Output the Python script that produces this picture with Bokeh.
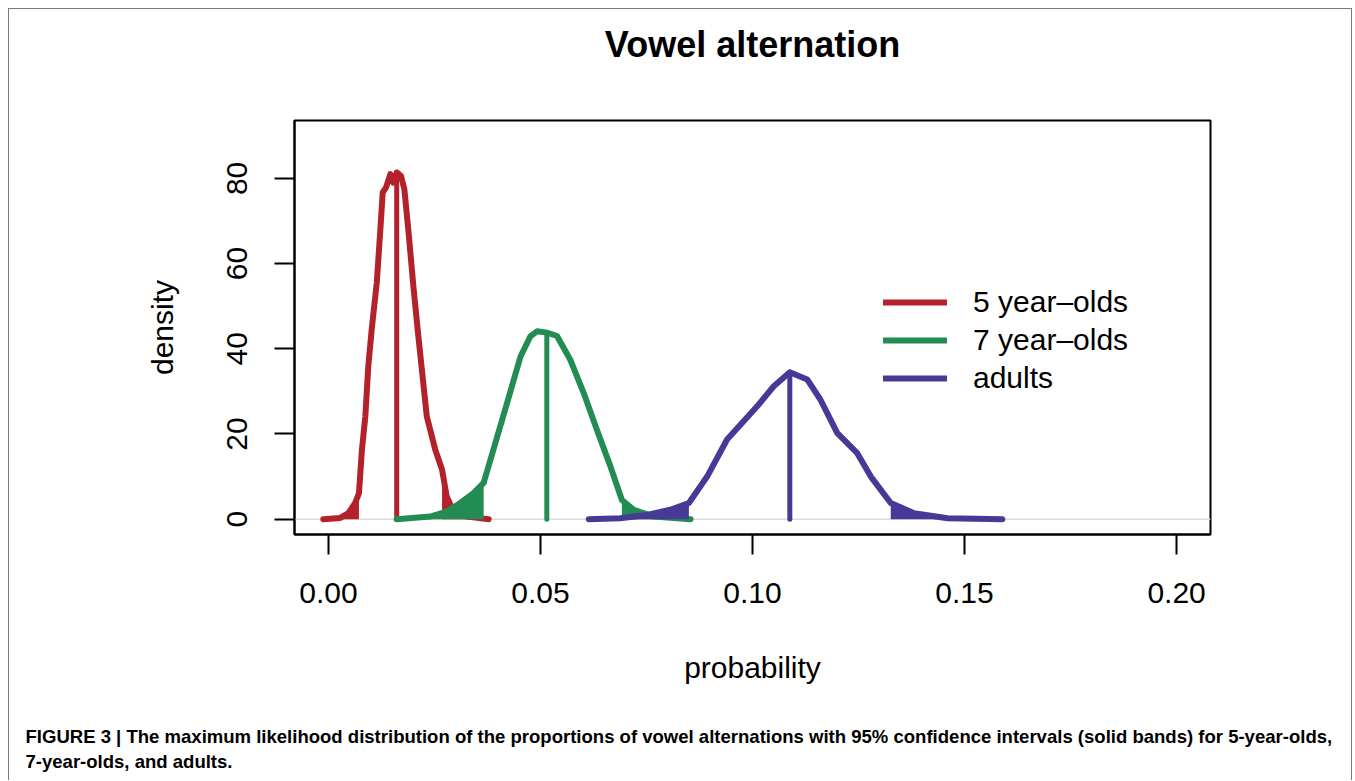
import numpy as np
from bokeh.plotting import figure
from bokeh.models import (Span, Legend, LegendItem, FixedTicker, Title, Range1d,
                          NumeralTickFormatter, LinearAxis)
from bokeh.embed import file_html
from bokeh.resources import INLINE

# ---------------- data ----------------
title_text = "Vowel alternation"
x_label = "probability"
y_label = "density"
x_ticks = [0.00, 0.05, 0.10, 0.15, 0.20]
y_ticks = [0, 20, 40, 60, 80]
caption_lines = [
    "FIGURE 3 | The maximum likelihood distribution of the proportions of vowel alternations with 95% confidence intervals (solid bands) for 5-year-olds,",
    "7-year-olds, and adults.",
]

group_names = ["5 year\u2013olds", "7 year\u2013olds", "adults"]
group_colors = ["#B3222B", "#238C52", "#463A96"]

five_x = [-0.0012, 0.0028, 0.0047, 0.0063, 0.0072, 0.0079, 0.0087, 0.0094, 0.0102, 0.0114,
          0.0122, 0.0128, 0.0136, 0.0146, 0.0153, 0.0161, 0.0171, 0.0179, 0.0189, 0.0201,
          0.0212, 0.0232, 0.0252, 0.0268, 0.0279, 0.0295, 0.0327, 0.0378]
five_y = [0.0, 0.3, 1.4, 3.8, 6.1, 16.3, 24.1, 35.9, 44.5, 55.5,
          67.3, 76.7, 77.9, 81.0, 79.0, 81.4, 80.6, 77.5, 67.3, 54.0,
          43.0, 24.1, 16.3, 11.6, 5.3, 1.8, 0.6, 0.0]
five_ci = [0.0072, 0.0268]
five_median = [0.0161, 81.4]

seven_x = [0.0161, 0.0240, 0.0279, 0.0311, 0.0342, 0.0366, 0.0389, 0.0421, 0.0453, 0.0476,
           0.0492, 0.0515, 0.0539, 0.0570, 0.0602, 0.0633, 0.0665, 0.0692, 0.0720, 0.0767,
           0.0854]
seven_y = [0.0, 0.6, 1.8, 3.8, 6.1, 8.5, 16.3, 27.2, 38.2, 42.9,
           44.1, 43.8, 43.0, 37.5, 29.6, 21.0, 12.4, 4.5, 2.2, 0.6,
           0.0]
seven_ci = [0.0366, 0.0692]
seven_median = [0.0515, 43.8]

adult_x = [0.0614, 0.0688, 0.0751, 0.0806, 0.0850, 0.0893, 0.0940, 0.0979, 0.1011, 0.1050,
           0.1088, 0.1129, 0.1160, 0.1200, 0.1247, 0.1279, 0.1326, 0.1381, 0.1460, 0.1589]
adult_y = [0.0, 0.2, 1.0, 2.2, 3.8, 10.0, 18.7, 23.0, 26.5, 31.2,
           34.5, 32.8, 28.1, 20.2, 15.5, 10.0, 3.8, 1.4, 0.2, 0.0]
adult_ci = [0.0850, 0.1326]
adult_median = [0.1088, 34.5]

curves = [(five_x, five_y, five_ci, five_median),
          (seven_x, seven_y, seven_ci, seven_median),
          (adult_x, adult_y, adult_ci, adult_median)]

# ---------------- figure ----------------
FONT = "Liberation Sans"
p = figure(width=1344, height=772, output_backend="svg", toolbar_location=None, title=None,
           x_range=Range1d(-0.008, 0.208), y_range=Range1d(-3.6, 93.6),
           min_border_left=285, min_border_right=143, min_border_top=111, min_border_bottom=247)
p.styles = {"margin-left": "8px", "margin-top": "8px",
            "border-top": "1px solid #7a7a7a", "border-left": "1px solid #7a7a7a",
            "border-right": "1px solid #7a7a7a"}
p.background_fill_color = "white"
p.border_fill_color = "white"
p.outline_line_color = "black"
p.outline_line_width = 2
p.xgrid.visible = False
p.ygrid.visible = False

for ax in (p.xaxis[0], p.yaxis[0]):
    ax.axis_line_color = "black"
    ax.axis_line_width = 2
    ax.major_tick_line_color = "black"
    ax.major_tick_line_width = 2
    ax.major_tick_in = 0
    ax.major_tick_out = 20
    ax.minor_tick_line_color = None
    ax.major_label_text_font = FONT
    ax.major_label_text_font_size = "30px"
    ax.major_label_text_color = "black"
    ax.axis_label_text_font = FONT
    ax.axis_label_text_font_size = "30px"
    ax.axis_label_text_font_style = "normal"
    ax.axis_label_text_color = "black"

p.xaxis[0].ticker = FixedTicker(ticks=x_ticks)
p.xaxis[0].formatter = NumeralTickFormatter(format="0.00")
p.xaxis[0].axis_label = x_label
p.xaxis[0].major_label_standoff = 28
p.xaxis[0].axis_label_standoff = 45

p.yaxis[0].ticker = FixedTicker(ticks=y_ticks)
p.yaxis[0].axis_label = y_label
p.yaxis[0].major_label_orientation = "vertical"
p.yaxis[0].major_label_standoff = 27
p.yaxis[0].axis_label_standoff = 46

# title: carried by a tick-less axis above the frame
title_axis = LinearAxis(ticker=FixedTicker(ticks=[]), axis_line_color=None,
                        major_tick_line_color=None, minor_tick_line_color=None,
                        major_tick_in=0, major_tick_out=0, major_label_standoff=0,
                        axis_label=title_text, axis_label_standoff=56,
                        axis_label_text_font=FONT, axis_label_text_font_size="36px",
                        axis_label_text_font_style="bold", axis_label_text_color="black")
p.add_layout(title_axis, "above")

p.add_layout(Span(location=0, dimension="width", line_color="#dcdcdc", line_width=1.5,
                  level="underlay"))

items = []
for (cx, cy, ci, med), name, col in zip(curves, group_names, group_colors):
    xs = np.array(cx)
    ys = np.array(cy)
    lo_mask = xs <= ci[0]
    hi_mask = xs >= ci[1]
    p.varea(x=xs[lo_mask], y1=0, y2=ys[lo_mask], fill_color=col)
    p.varea(x=xs[hi_mask], y1=0, y2=ys[hi_mask], fill_color=col)
    r = p.line(xs, ys, line_color=col, line_width=6, line_cap="round", line_join="round")
    p.segment(x0=[med[0]], y0=[0], x1=[med[0]], y1=[med[1]], line_color=col, line_width=5,
              line_cap="round")
    items.append(LegendItem(label=name, renderers=[r]))

legend = Legend(items=items, location=(589, 137), padding=0, margin=0, spacing=0,
                glyph_width=64, glyph_height=38, label_height=38, label_standoff=26,
                label_text_font=FONT, label_text_font_size="30px", label_text_color="black",
                border_line_alpha=0, background_fill_alpha=0)
p.add_layout(legend, "center")

# spacer between the x axis and the caption (single white tick, no label)
spacer_axis = LinearAxis(ticker=FixedTicker(ticks=[0.0]), axis_line_color=None,
                         major_tick_line_color="white", minor_tick_line_color=None,
                         major_tick_in=0, major_tick_out=38, major_label_standoff=0,
                         major_label_overrides={0: ""}, major_label_text_font_size="1px",
                         major_label_text_alpha=0)
p.add_layout(spacer_axis, "below")

caption = Title(text="\n".join(caption_lines), align="left", text_font=FONT,
                text_font_size="18.55px", text_font_style="bold", text_color="black",
                text_line_height=1.2, offset=-269, standoff=0)
p.add_layout(caption, "below")

open("out.html", "w").write(file_html(p, INLINE))
